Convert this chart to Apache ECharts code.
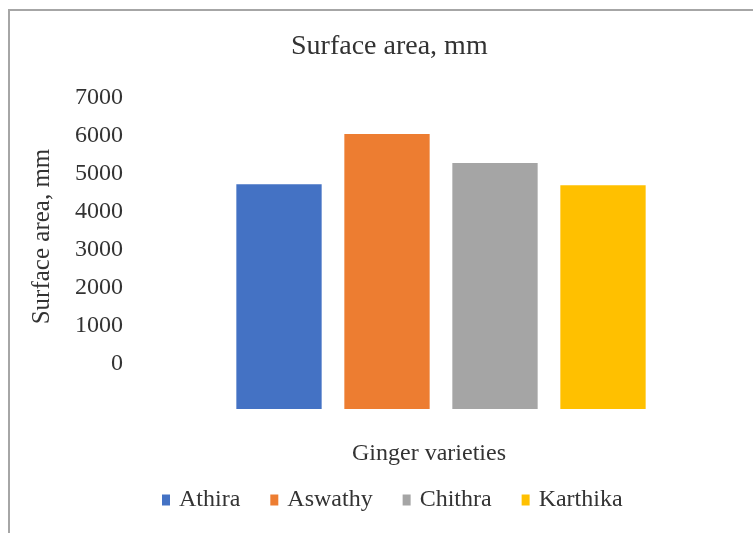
<!DOCTYPE html>
<html>
<head>
  <meta charset="utf-8">
  <script src="https://cdn.jsdelivr.net/npm/echarts@6/dist/echarts.min.js"></script>
  <style>
    html, body { margin: 0; padding: 0; background: #fff; }
  </style>
</head>
<body>
  <div id="main" style="width: 753px; height: 533px"></div>
  <script type="text/javascript">
    var chart = echarts.init(document.getElementById('main'));

    // data
    var varieties = ['Athira', 'Aswathy', 'Chithra', 'Karthika'];
    var surfaceArea = [4728, 6049, 5283, 4702];
    var yTicks = [0, 1000, 2000, 3000, 4000, 5000, 6000, 7000];
    var colors = ['#4472C4', '#ED7D31', '#A5A5A5', '#FFC000'];

    var font = 'Liberation Serif';
    var textColor = '#333';

    // bars are drawn from the bottom of the plot up to the value
    function renderBar(params, api) {
      var top = api.coord([api.value(0), api.value(1)]);
      var bottom = params.coordSys.y + params.coordSys.height;
      var w = api.size([1, 0])[0] * 0.79;
      return {
        type: 'rect',
        shape: { x: top[0] - w / 2, y: top[1], width: w, height: bottom - top[1] },
        style: { fill: api.visual('color') }
      };
    }

    var series = varieties.map(function (name, i) {
      return {
        name: name,
        type: 'custom',
        renderItem: renderBar,
        itemStyle: { color: colors[i] },
        encode: { x: 0, y: 1 },
        data: [[name, surfaceArea[i]]]
      };
    });

    chart.setOption({
      animation: false,
      textStyle: { fontFamily: font, color: textColor },
      title: {
        text: 'Surface area, mm',
        left: 291,
        top: 33,
        padding: 0,
        textStyle: { fontFamily: font, fontSize: 28, fontWeight: 'normal', color: textColor }
      },
      legend: {
        data: varieties,
        left: 162,
        top: 488,
        icon: 'rect',
        itemWidth: 8,
        itemHeight: 11,
        itemGap: 30,
        padding: 0,
        textStyle: { fontFamily: font, fontSize: 24, color: textColor, padding: [0, 0, 0, 4] }
      },
      grid: { left: 225, right: 96, top: 98, bottom: 124, containLabel: false },
      xAxis: {
        type: 'category',
        data: varieties,
        name: 'Ginger varieties',
        nameLocation: 'middle',
        nameGap: 33,
        nameTextStyle: { fontFamily: font, fontSize: 24, color: textColor, padding: [0, 24, 0, 0] },
        axisLine: { show: false },
        axisTick: { show: false },
        axisLabel: { show: false }
      },
      yAxis: {
        type: 'value',
        min: -1200,
        max: 7000,
        name: 'Surface area, mm',
        nameLocation: 'middle',
        nameRotate: 90,
        nameGap: 170,
        nameTextStyle: { fontFamily: font, fontSize: 25, color: textColor, padding: [0, 0, 0, 34] },
        axisLine: { show: false },
        axisTick: { show: false },
        splitLine: { show: false },
        axisLabel: {
          customValues: yTicks,
          formatter: function (v) { return String(v); },
          margin: 102,
          fontFamily: font,
          fontSize: 24,
          color: textColor
        }
      },
      graphic: [{
        type: 'rect',
        shape: { x: 9, y: 10, width: 800, height: 600 },
        style: { fill: 'none', stroke: '#a6a6a6', lineWidth: 2 },
        silent: true
      }],
      series: series
    });
  </script>
</body>
</html>
